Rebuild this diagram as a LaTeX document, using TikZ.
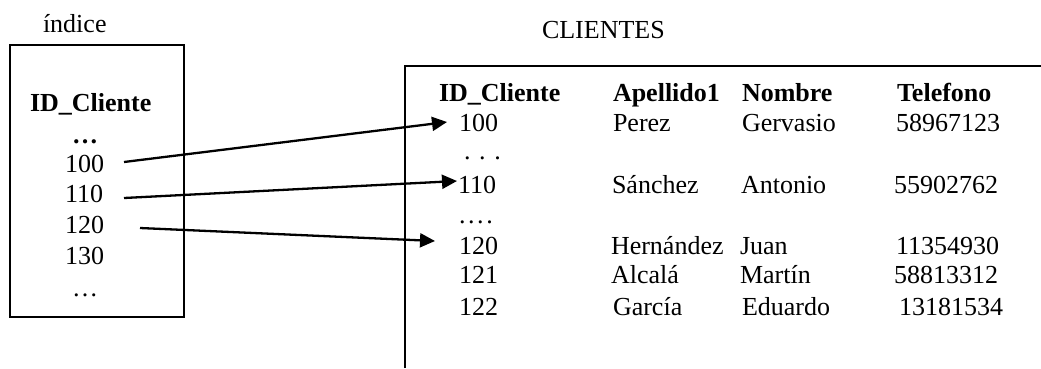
\documentclass[tikz,border=0pt]{standalone}
\usepackage{fontspec}
\setmainfont{Liberation Serif}
\usetikzlibrary{arrows.meta}
\begin{document}
\begin{tikzpicture}[x=1pt,y=-1pt,
  txt/.style={anchor=base west,inner sep=0pt,outer sep=0pt,font=\fontsize{26}{30}\selectfont},
  hdr/.style={txt,font=\fontsize{26}{30}\selectfont\bfseries},
  boxline/.style={line width=1.9pt},
  ptr/.style={line width=2.3pt,-{Triangle[length=15pt,width=14pt]}}]
\useasboundingbox (0,0) rectangle (1041,368);
% index box
\node[txt] (lbl) at (43,32) {índice};
\draw[boxline] (10,45) rectangle (184,317);
\node[hdr] (ih) at (30,111) {ID\_Cliente};
\node[hdr] (id0) at (72,143) {…};
\node[txt] (i100) at (65,172) {100};
\node[txt] (i110) at (65,202) {110};
\node[txt] (i120) at (65,233) {120};
\node[txt] (i130) at (65,264) {130};
\node[txt] (id1) at (72,296) {…};
% table
\node[txt] (tt) at (542,38) {CLIENTES};
\draw[boxline] (405,368) -- (405,66) -- (1041,66);
\node[hdr] (h1) at (439,101) {ID\_Cliente};
\node[hdr] (h2) at (613,101) {Apellido1};
\node[hdr] (h3) at (742,101) {Nombre};
\node[hdr] (h4) at (897,101) {Telefono};
\node[txt] (r1a) at (459,131) {100};
\node[txt] (r1b) at (613,131) {Perez};
\node[txt] (r1c) at (742,131) {Gervasio};
\node[txt] (r1d) at (896,131) {58967123};
\node[txt] (d1) at (464,159) {. . .};
\node[txt] (r2a) at (458,193) {110};
\node[txt] (r2b) at (612,193) {Sánchez};
\node[txt] (r2c) at (741,193) {Antonio};
\node[txt] (r2d) at (894,193) {55902762};
\node[txt] (d2) at (459,223) {\addfontfeature{LetterSpace=10}....};
\node[txt] (r3a) at (459,254) {120};
\node[txt] (r3b) at (611,254) {Hernández};
\node[txt] (r3c) at (740,254) {Juan};
\node[txt] (r3d) at (896,254) {11354930};
\node[txt] (r4a) at (459,283) {121};
\node[txt] (r4b) at (611,283) {Alcalá};
\node[txt] (r4c) at (740,283) {Martín};
\node[txt] (r4d) at (894,283) {58813312};
\node[txt] (r5a) at (459,315) {122};
\node[txt] (r5b) at (613,315) {García};
\node[txt] (r5c) at (742,315) {Eduardo};
\node[txt] (r5d) at (899,315) {13181534};
% pointers
\coordinate (s1) at (124,162);
\coordinate (t1) at (447,122);
\coordinate (s2) at (124,198);
\coordinate (t2) at (457,181);
\coordinate (s3) at (140,228);
\coordinate (t3) at (435,241);
\draw[ptr] (s1) -- (t1);
\draw[ptr] (s2) -- (t2);
\draw[ptr] (s3) -- (t3);
\end{tikzpicture}
\end{document}
